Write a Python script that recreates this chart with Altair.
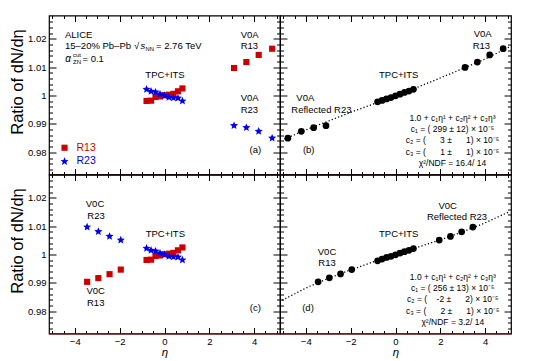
import altair as alt
import pandas as pd

# ---------------- values ----------------
series_names = ["R13", "R23"]

eta_tpc = [-0.8, -0.6, -0.4, -0.2, 0.0, 0.2, 0.4, 0.6, 0.8]
eta_v0a = [3.1, 3.65, 4.2, 4.8]
eta_v0c = [-3.45, -2.95, -2.45, -1.95]
eta_v0a_refl = [-4.8, -4.2, -3.65, -3.1]
eta_v0c_refl = [1.95, 2.45, 2.95, 3.45]

# panel (a) / (c) : R13 and R23
r13_tpc = [0.9981, 0.9982, 0.9995, 0.9997, 1.0001, 1.0003, 1.0006, 1.0015, 1.0025]
r23_tpc = [1.0022, 1.0015, 1.0012, 1.0005, 1.0000, 0.9994, 0.9992, 0.9991, 0.9981]
r13_v0a = [1.0097, 1.0118, 1.0143, 1.0165]
r23_v0a = [0.9894, 0.9887, 0.9874, 0.9850]
r13_v0c = [0.9904, 0.9917, 0.9931, 0.9947]
r23_v0c = [1.0097, 1.0081, 1.0064, 1.0051]

# panel (b)
comb_tpc_b = [0.9978, 0.9983, 0.9988, 0.9993, 0.9999, 1.0005, 1.0011, 1.0016, 1.0022]
refl_r23_v0a_b = [0.9850, 0.9874, 0.9887, 0.9894]
r13_v0a_b = [1.0099, 1.0118, 1.0143, 1.0165]
fit_b_eta = [-4.95, -4.0, -3.0, -2.0, -1.0, 0.0, 1.0, 2.0, 3.0, 4.0, 5.15]
fit_b_val = [0.9847, 0.9879, 0.9910, 0.9941, 0.9970, 1.0000, 1.0030, 1.0062, 1.0095, 1.0129, 1.0174]

# panel (d)
comb_tpc_d = [0.9978, 0.9984, 0.9990, 0.9994, 0.9999, 1.0005, 1.0010, 1.0015, 1.0021]
r13_v0c_d = [0.9904, 0.9918, 0.9932, 0.9947]
refl_r23_v0c_d = [1.0051, 1.0064, 1.0080, 1.0097]
fit_d_eta = [-5.05, -4.0, -3.0, -2.0, -1.0, 0.0, 1.0, 2.0, 3.0, 4.0, 5.05]
fit_d_val = [0.9839, 0.9882, 0.9916, 0.9946, 0.9974, 1.0000, 1.0026, 1.0052, 1.0080, 1.0112, 1.0150]

x_major = [-4, -2, 0, 2, 4]
x_minor = [v / 2 for v in range(-10, 11) if v % 4 != 0]
y_major = [0.98, 0.99, 1.0, 1.01, 1.02]
y_minor = [round(0.974 + 0.002 * i, 3) for i in range(27)]
y_minor = [v for v in y_minor if all(abs(v - m) > 1e-6 for m in y_major)]

y_title = "Ratio of dN/d\u03b7"
x_title = "\u03b7"

fit_b_text = ["1.0 + c\u2081\u03b7\u00b9 + c\u2082\u03b7\u00b2 + c\u2083\u03b7\u00b3",
              "c\u2081 = ( 299 \u00b1  12) \u00d7 10\u207b\u2075",
              "c\u2082 = (\u2007\u2007\u20073 \u00b1\u2007\u2007\u20071) \u00d7 10\u207b\u2075",
              "c\u2083 = (\u2007\u2007\u20071 \u00b1\u2007\u2007\u20071) \u00d7 10\u207b\u2075",
              "\u03c7\u00b2/NDF = 16.4/ 14"]
fit_d_text = ["1.0 + c\u2081\u03b7\u00b9 + c\u2082\u03b7\u00b2 + c\u2083\u03b7\u00b3",
              "c\u2081 = ( 256 \u00b1  13) \u00d7 10\u207b\u2075",
              "c\u2082 = (\u2007\u2007-2 \u00b1\u2007\u2007\u20072) \u00d7 10\u207b\u2075",
              "c\u2083 = (\u2007\u2007\u20072 \u00b1\u2007\u2007\u20071) \u00d7 10\u207b\u2075",
              "\u03c7\u00b2/NDF = 3.2/ 14"]

# ---------------- styling ----------------
W, H = 231, 159
XDOM = [-5.15, 5.15]
YDOM = [0.9722, 1.0282]
FONT = "Liberation Sans"
RED = "#cc0000"
BLUE = "#0000ee"
DRED = "#7a1414"
TS = 9.5
STAR = ("M0,-1L0.2645,-0.364L0.951,-0.309L0.428,0.139L0.588,0.809L0,0.45"
        "L-0.588,0.809L-0.428,0.139L-0.951,-0.309L-0.2645,-0.364Z")


def xscale():
    return alt.Scale(domain=XDOM, nice=False, zero=False)


def yscale():
    return alt.Scale(domain=YDOM, nice=False, zero=False)


def tick_axis(orient, vals, size):
    return alt.Axis(orient=orient, values=vals, tickSize=size, offset=-size, labels=False,
                    domain=False, grid=False, title=None, ticks=True,
                    tickColor="black", tickWidth=1)


anchor = pd.DataFrame({"eta": [0.0], "ratio": [1.0]})


def tick_layers():
    specs = [("bottom", "left", x_major, y_major, 6, 7),
             ("bottom", "left", x_minor, y_minor, 3, 3.5),
             ("top", "right", x_major, y_major, 6, 7),
             ("top", "right", x_minor, y_minor, 3, 3.5)]
    out = []
    for xo, yo, xv, yv, xs, ys in specs:
        out.append(alt.Chart(anchor).mark_point(opacity=0).encode(
            x=alt.X("eta:Q", scale=xscale(), axis=tick_axis(xo, xv, xs)),
            y=alt.Y("ratio:Q", scale=yscale(), axis=tick_axis(yo, yv, ys))))
    return out


def x_axis(labels):
    if labels:
        return alt.Axis(orient="bottom", values=x_major, ticks=False, domain=True,
                        domainColor=DRED, domainWidth=1.2, labelFont=FONT, labelFontSize=9.5,
                        labelPadding=2.5, labelColor="black", grid=False, format="~g",
                        title=x_title, titleFont=FONT, titleFontSize=11.5, titleFontStyle="italic",
                        titleFontWeight="normal", titleColor="black", titleX=W / 2, titleY=21.5,
                        titleBaseline="alphabetic")
    return alt.Axis(orient="bottom", labels=False, ticks=False, domain=True, domainColor=DRED,
                    domainWidth=1.2, grid=False, title=None)


def y_axis(labels):
    if labels:
        return alt.Axis(orient="left", values=y_major, ticks=False, domain=False,
                        labelFont=FONT, labelFontSize=9.5, labelPadding=3, labelColor="black",
                        format="~g", grid=False, title=None)
    return None


def txt(s, x, y, size=TS, align="left", color="black", italic=False, angle=0):
    return alt.Chart(pd.DataFrame({"t": [s]})).mark_text(
        align=align, baseline="middle", font=FONT, fontSize=size, color=color, angle=angle,
        fontStyle="italic" if italic else "normal").encode(
        x=alt.value(x), y=alt.value(y), text="t:N")


def ytitle():
    return txt(y_title, -31.5, 66.5, size=16.5, align="center", angle=270)


def fit_block(lines, xc):
    ys = [102, 113.3, 124.6, 136, 147.3]
    return [txt(s, xc, y, size=8.5, align="center") for s, y in zip(lines, ys)]


def ratio_frame(etas_r13, vals_r13, etas_r23, vals_r23):
    rows = []
    for e, v in zip(etas_r13, vals_r13):
        rows.append({"eta": e, "ratio": v, "series": series_names[0]})
    for e, v in zip(etas_r23, vals_r23):
        rows.append({"eta": e, "ratio": v, "series": series_names[1]})
    return pd.DataFrame(rows)


df_a = ratio_frame(eta_tpc + eta_v0a, r13_tpc + r13_v0a, eta_tpc + eta_v0a, r23_tpc + r23_v0a)
df_c = ratio_frame(eta_tpc + eta_v0c, r13_tpc + r13_v0c, eta_tpc + eta_v0c, r23_tpc + r23_v0c)

leg = alt.Legend(orient="none", legendX=10.3, legendY=127, title=None, labelFont=FONT,
                 labelFontSize=10.5,
                 labelColor={"expr": "datum.label == 'R13' ? '%s' : '%s'" % (RED, BLUE)},
                 labelOffset=6.7, rowPadding=2.7, padding=0, symbolStrokeWidth=0)

SIZES = [38, 72]

# ---------------- panel (a) ----------------
pts_a = alt.Chart(df_a).mark_point(filled=True, opacity=1, strokeWidth=0).encode(
    x=alt.X("eta:Q", scale=xscale(), axis=x_axis(False)),
    y=alt.Y("ratio:Q", scale=yscale(), axis=y_axis(True)),
    color=alt.Color("series:N", scale=alt.Scale(domain=series_names, range=[RED, BLUE]), legend=leg),
    shape=alt.Shape("series:N", scale=alt.Scale(domain=series_names, range=["square", STAR]), legend=leg),
    size=alt.Size("series:N", scale=alt.Scale(domain=series_names, range=SIZES), legend=leg),
)

panel_a = alt.layer(
    *tick_layers(), pts_a, ytitle(),
    txt("ALICE", 16, 19),
    txt("15\u201320% Pb\u2013Pb", 16, 30.7),
    txt("\u221a", 85, 30.7),
    txt("s", 91.5, 30.7, italic=True),
    txt("NN", 96.5, 33.8, size=5.8),
    txt("= 2.76 TeV", 107, 30.7),
    txt("\u03b1", 16.3, 43, size=10, italic=True),
    txt("cut", 24, 39.6, size=6),
    txt("ZN", 24, 46, size=6),
    txt("= 0.1", 33.5, 43),
    txt("TPC+ITS", 116, 59.7, align="center"),
    txt("V0A", 191.7, 19), txt("R13", 191.7, 30.7),
    txt("V0A", 191.7, 82.3), txt("R23", 191.7, 94),
    txt("(a)", 206.3, 134, align="center"),
).resolve_axis(x="independent", y="independent").properties(width=W, height=H)

# ---------------- panel (c) ----------------
pts_c = alt.Chart(df_c).mark_point(filled=True, opacity=1, strokeWidth=0).encode(
    x=alt.X("eta:Q", scale=xscale(), axis=x_axis(True)),
    y=alt.Y("ratio:Q", scale=yscale(), axis=y_axis(True)),
    color=alt.Color("series:N", scale=alt.Scale(domain=series_names, range=[RED, BLUE]), legend=None),
    shape=alt.Shape("series:N", scale=alt.Scale(domain=series_names, range=["square", STAR]), legend=None),
    size=alt.Size("series:N", scale=alt.Scale(domain=series_names, range=SIZES), legend=None),
)

panel_c = alt.layer(
    *tick_layers(), pts_c, ytitle(),
    txt("V0C", 46, 29, align="center"), txt("R23", 47, 41.3, align="center"),
    txt("V0C", 46.7, 116.3, align="center"), txt("R13", 46.7, 128, align="center"),
    txt("TPC+ITS", 116.3, 59, align="center"),
    txt("(c)", 206.3, 133.7, align="center"),
).resolve_axis(x="independent", y="independent").properties(width=W, height=H)


# ---------------- panels (b) and (d) ----------------
def combined_panel(etas, vals, fit_eta, fit_val, bottom, extra):
    df = pd.DataFrame({"eta": etas, "ratio": vals})
    fdf = pd.DataFrame({"eta": fit_eta, "ratio": fit_val})
    line = alt.Chart(fdf).mark_line(color="black", strokeWidth=1.3, strokeDash=[1.2, 2.2],
                                    clip=True).encode(
        x=alt.X("eta:Q", scale=xscale(), axis=None),
        y=alt.Y("ratio:Q", scale=yscale(), axis=None))
    pts = alt.Chart(df).mark_point(filled=True, opacity=1, strokeWidth=0, color="black",
                                   shape="circle", size=45).encode(
        x=alt.X("eta:Q", scale=xscale(), axis=x_axis(bottom)),
        y=alt.Y("ratio:Q", scale=yscale(), axis=None))
    return alt.layer(*tick_layers(), line, pts, *extra).resolve_axis(
        x="independent", y="independent").properties(width=W, height=H)


panel_b = combined_panel(
    eta_v0a_refl + eta_tpc + eta_v0a, refl_r23_v0a_b + comb_tpc_b + r13_v0a_b,
    fit_b_eta, fit_b_val, False,
    [txt("V0A", 193.7, 18), txt("R13", 192.7, 30.7),
     txt("TPC+ITS", 118.7, 59.7, align="center"),
     txt("V0A", 16.3, 82.3), txt("Reflected R23", 11.3, 94),
     txt("(b)", 28.7, 134, align="center")] + fit_block(fit_b_text, 172.5))

panel_d = combined_panel(
    eta_v0c + eta_tpc + eta_v0c_refl, r13_v0c_d + comb_tpc_d + refl_r23_v0c_d,
    fit_d_eta, fit_d_val, True,
    [txt("V0C", 167.7, 31.3, align="center"), txt("Reflected R23", 177, 42.3, align="center"),
     txt("TPC+ITS", 118.7, 59, align="center"),
     txt("V0C", 47, 77.3, align="center"), txt("R13", 47, 88, align="center"),
     txt("(d)", 28, 133.7, align="center")] + fit_block(fit_d_text, 172.8))

chart = alt.concat(panel_a, panel_b, panel_c, panel_d, columns=2, spacing=0,
                   bounds="flush").resolve_scale(
    color="independent", shape="independent", size="independent"
).properties(
    padding={"left": 0, "top": 5.5, "right": 4, "bottom": 0},
    background="white",
).configure_view(stroke="black", strokeWidth=1.2)

chart.save("out.html", embed_options={"renderer": "svg", "actions": False})
